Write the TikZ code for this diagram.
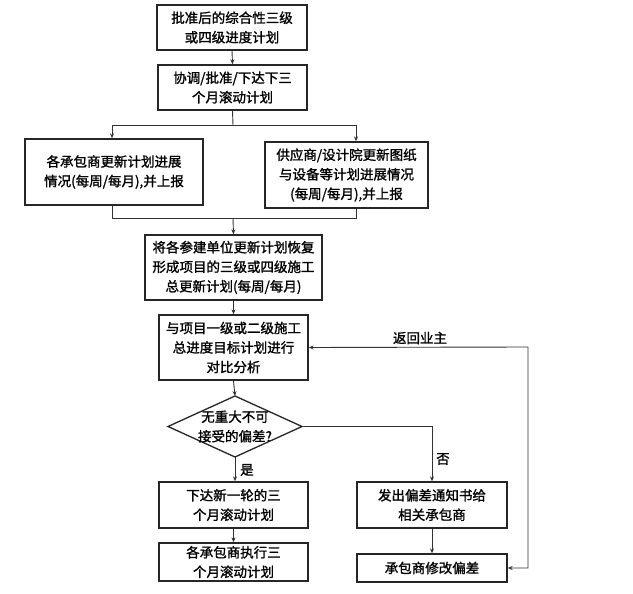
\documentclass[tikz,border=0pt]{standalone}
\usepackage{fontspec}
\setmainfont{Noto Sans CJK SC}[FakeBold=1.3]
\usetikzlibrary{arrows.meta}
\begin{document}
\begin{tikzpicture}[x=1pt,y=-1pt,
  box/.style={draw=black!85, line width=1.3pt, align=center, inner sep=0pt,
    font=\fontsize{13.5}{19.5}\selectfont},
  lbl/.style={font=\fontsize{13.5}{19.5}\selectfont, inner sep=1pt},
  conn/.style={line width=0.9pt, draw=black!80},
  arr/.style={conn, -{Stealth[length=5pt,width=4pt]}},
  darr/.style={conn, {Stealth[length=5pt,width=4pt]}-{Stealth[length=5pt,width=4pt]}}]
\useasboundingbox (0,0) rectangle (633,594);
\fill[white] (0,0) rectangle (633,594);

\node[box, minimum width=150pt, minimum height=45pt] (b1) at (232,27.5) {批准后的综合性三级\\或四级进度计划};
\node[box, minimum width=149pt, minimum height=45pt] (b2) at (232.5,87.5) {协调/批准/下达下三\\个月滚动计划};
\node[box, minimum width=178pt, minimum height=66pt] (b3) at (114,172) {各承包商更新计划进展\\情况(每周/每月),并上报};
\node[box, minimum width=163pt, minimum height=66pt] (b4) at (346.5,175) {供应商/设计院更新图纸\\与设备等计划进展情况\\(每周/每月),并上报};
\node[box, minimum width=177pt, minimum height=65pt] (b5) at (233.5,267.5) {将各参建单位更新计划恢复\\形成项目的三级或四级施工\\总更新计划(每周/每月)};
\node[box, minimum width=149pt, minimum height=65pt] (b6) at (233.5,347.5) {与项目一级或二级施工\\总进度目标计划进行\\对比分析};

% decision diamond
\coordinate (dN) at (235,396);
\coordinate (dS) at (235,457);
\coordinate (dW) at (168,426.5);
\coordinate (dE) at (302,426.5);
\draw[draw=black!85, line width=1.3pt] (dN) -- (dE) -- (dS) -- (dW) -- cycle;
\node[align=center, inner sep=0pt, font=\fontsize{13.5}{19.5}\selectfont] (d) at (235,426.5) {无重大不可\\接受的偏差?};

\node[box, minimum width=149pt, minimum height=46pt] (b7) at (233.5,505) {下达新一轮的三\\个月滚动计划};
\node[box, minimum width=149pt, minimum height=38pt] (b8) at (233.5,562) {各承包商执行三\\个月滚动计划};
\node[box, minimum width=150pt, minimum height=46pt] (b9) at (432,505) {发出偏差通知书给\\相关承包商};
\node[box, minimum width=150pt, minimum height=28pt] (b10) at (432,568) {承包商修改偏差};

% connectors
\draw[arr] (b1.south) -- (b2.north);
\coordinate (split) at (233,125);
\coordinate (join) at (233,218);
\draw[conn] (b2.south) -- (split);
\draw[arr] (split) -| ([xshift=-2pt]b3.north);
\draw[arr] (split) -| ([xshift=9.5pt]b4.north);
\draw[conn] ([xshift=-2pt]b3.south) |- (join);
\draw[conn] ([xshift=9.5pt]b4.south) |- (join);
\draw[arr] (join) -- (b5.north);
\draw[arr] (b5.south) -- (b6.north);
\draw[arr] (b6.south) -- (dN);
\draw[arr] (dS) -- (b7.north -| dS);
\node[lbl, anchor=west] (yes) at (239,470) {是};
\draw[arr] (b7.south) -- (b8.north);
\draw[arr] (dE) -| (b9.north);
\node[lbl, anchor=west] (no) at (435,459) {否};
\draw[arr] (b9.south) -- (b10.north);
\coordinate (rt) at (528,347);
\draw[darr] (b10.east) -| (rt) -- (b6.east);
\node[lbl] (ret) at (420,338) {返回业主};
\end{tikzpicture}
\end{document}
